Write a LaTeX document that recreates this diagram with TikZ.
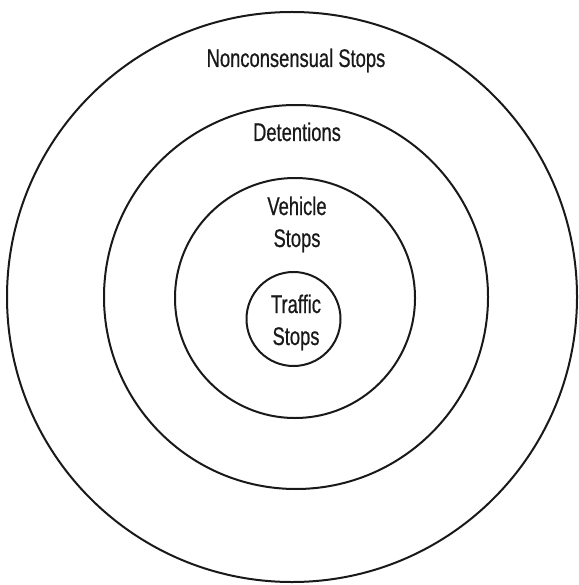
\documentclass[tikz,border=0pt]{standalone}
\usepackage{fontspec}
\setmainfont[FakeStretch=0.72,FakeBold=0.6]{Liberation Sans}
\begin{document}
\begin{tikzpicture}[x=1pt,y=-1pt,
  ring/.style={draw=black!90,line width=2pt,circle,inner sep=0pt},
  lbl/.style={font=\fontsize{25.5}{32}\selectfont,text=black!90,align=center,inner sep=0pt}]
\useasboundingbox (0,0) rectangle (578,585);
\node[ring,minimum size=570pt] (outer) at (292,297) {};
\node[ring,minimum size=384pt] (det) at (296,297) {};
\node[ring,minimum size=240pt] (veh) at (295,298) {};
\node[ring,minimum size=94pt] (traf) at (293.5,319) {};
\node[lbl,anchor=base] (tnon) at (296,67) {Nonconsensual Stops};
\node[lbl,anchor=base] (tdet) at (297,141) {Detentions};
\node[lbl,anchor=base] (tveh) at (297,247) {Vehicle\\Stops};
\node[lbl,anchor=base] (ttraf) at (296,345) {Traffic\\Stops};
\end{tikzpicture}
\end{document}
